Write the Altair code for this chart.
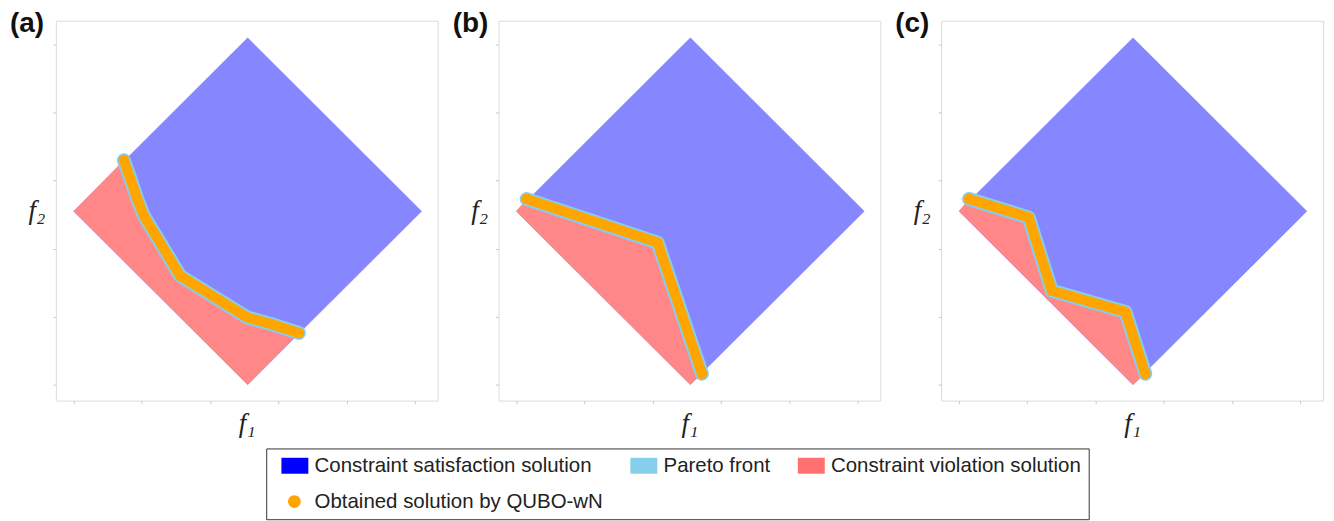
import altair as alt
import pandas as pd

panel_labels = ["(a)", "(b)", "(c)"]

# feasible objective region (square rotated 45 deg): left, top, right, bottom vertices
region_x = [0.0, 2.55, 5.1, 2.55]
region_y = [2.55, 5.1, 2.55, 0.0]

# Pareto fronts / obtained solutions
front_a_x = [0.735, 0.79, 0.84, 0.93, 1.03, 1.56, 2.54, 2.93, 3.30]
front_a_y = [3.30, 3.14, 3.00, 2.73, 2.48, 1.60, 0.99, 0.88, 0.76]
front_b_x = [0.15, 2.07, 2.72]
front_b_y = [2.73, 2.09, 0.16]
front_c_x = [0.146, 1.02, 1.36, 2.44, 2.73]
front_c_y = [2.73, 2.46, 1.38, 1.07, 0.16]

tick_values = [0, 1, 2, 3, 4, 5]

legend_labels = ["Constraint satisfaction solution", "Pareto front",
                 "Constraint violation solution", "Obtained solution by QUBO-wN"]
legend_colors = ["#0000ff", "#87ceeb", "#ff7070", "#ffa500"]
RECT = "M-0.25,-1L3.125,-1L3.125,1L-0.25,1Z"
DOT = "M2.175,0A0.8,0.8,0,1,1,0.575,0A0.8,0.8,0,1,1,2.175,0Z"
legend_shapes = [RECT, RECT, RECT, DOT]

BLUE_REGION = "#8686ff"
RED_REGION = "#ff8787"
FRONT = "#87ceeb"
ORANGE = "#ffa500"

X_DOM = [-0.263, 5.336]
Y_DOM = [-0.235, 5.352]

AXIS_COMMON = dict(values=tick_values, labels=False, domain=False, grid=False,
                   ticks=True, tickSize=3, tickColor="#c8c8c8",
                   titleFont="Liberation Serif", titleFontStyle="italic",
                   titleFontSize=27, titleFontWeight="normal", titleColor="#222222")


def xenc():
    return alt.X("x:Q", scale=alt.Scale(domain=X_DOM, nice=False, zero=False),
                 axis=alt.Axis(title="f\u2081", titleY=23, titleBaseline="middle", **AXIS_COMMON))


def yenc():
    return alt.Y("y:Q", scale=alt.Scale(domain=Y_DOM, nice=False, zero=False),
                 axis=alt.Axis(title="f\u2082", titleAngle=0, titleAlign="right",
                               titleBaseline="middle", titleX=-11, titleY=190, **AXIS_COMMON))


def panel(label, fx, fy, with_legend):
    region = pd.DataFrame({"x": region_x, "y": region_y, "i": range(4)})
    red_x = [region_x[0]] + fx + [region_x[3]]
    red_y = [region_y[0]] + fy + [region_y[3]]
    red = pd.DataFrame({"x": red_x, "y": red_y, "i": range(len(red_x))})
    front = pd.DataFrame({"x": fx, "y": fy, "i": range(len(fx))})

    layers = []
    if with_legend:
        leg = alt.Legend(title=None, orient="none", legendX=211, legendY=429,
                         direction="horizontal", columns=3, symbolSize=256,
                         symbolStrokeWidth=0, symbolOpacity=1,
                         labelFont="Liberation Sans", labelFontSize=20.5,
                         labelColor="#222222", labelOffset=21,
                         rowPadding=15, columnPadding=19, padding=7,
                         strokeColor="#333333", fillColor="white", labelLimit=400)
        ldf = pd.DataFrame({"label": legend_labels})
        layers.append(
            alt.Chart(ldf).mark_point(filled=True, size=20).encode(
                color=alt.Color("label:N", sort=legend_labels,
                                scale=alt.Scale(domain=legend_labels, range=legend_colors), legend=leg),
                shape=alt.Shape("label:N", sort=legend_labels,
                                scale=alt.Scale(domain=legend_labels, range=legend_shapes), legend=leg),
            )
        )
    layers.append(
        alt.Chart(region).mark_line(interpolate="linear-closed", fill=BLUE_REGION,
                                    stroke=BLUE_REGION, strokeWidth=0.5)
        .encode(x=xenc(), y=yenc(), order="i:Q")
    )
    layers.append(
        alt.Chart(red).mark_line(interpolate="linear-closed", fill=RED_REGION,
                                 stroke=RED_REGION, strokeWidth=0.5)
        .encode(x=xenc(), y=yenc(), order="i:Q")
    )
    layers.append(
        alt.Chart(front).mark_line(color=FRONT, strokeWidth=14, strokeCap="round", strokeJoin="round")
        .encode(x=xenc(), y=yenc(), order="i:Q")
    )
    layers.append(
        alt.Chart(front).mark_line(color=ORANGE, strokeWidth=10, strokeCap="round", strokeJoin="round")
        .encode(x=xenc(), y=yenc(), order="i:Q")
    )
    layers.append(
        alt.Chart(front).mark_circle(color=ORANGE, opacity=1, size=110)
        .encode(x=xenc(), y=yenc())
    )
    return alt.layer(*layers).properties(
        width=383, height=381,
        title=alt.TitleParams(text=label, anchor="start", frame="group", dx=-46, dy=39,
                              offset=0, baseline="alphabetic", fontSize=28,
                              fontWeight="bold", font="Liberation Sans", color="#111111"),
    )


fronts = [(front_a_x, front_a_y), (front_b_x, front_b_y), (front_c_x, front_c_y)]
panels = [panel(panel_labels[k], fronts[k][0], fronts[k][1], k == 0) for k in range(3)]

chart = alt.hconcat(*panels, spacing=61, bounds="flush").properties(
    padding={"left": 1, "top": 0, "right": 2, "bottom": 0},
    background="white",
).configure_view(stroke="#dcdcdc", strokeWidth=1)

chart.save("out.html", embed_options={"renderer": "svg", "actions": False})
